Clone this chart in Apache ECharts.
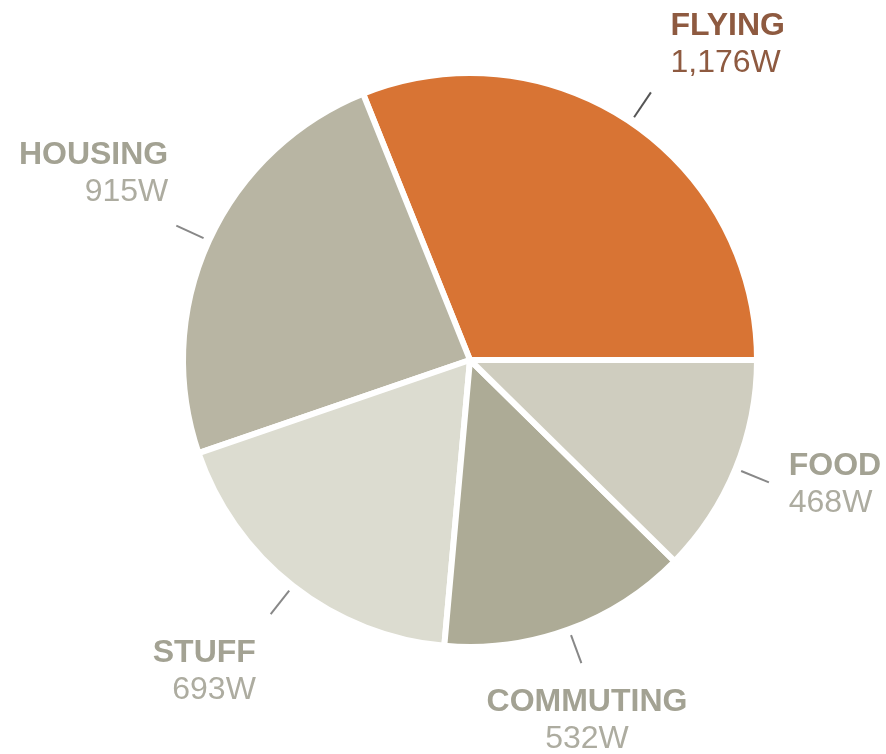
<!DOCTYPE html>
<html>
<head>
<meta charset="utf-8">
<script src="https://cdn.jsdelivr.net/npm/echarts@6/dist/echarts.min.js"></script>
<style>html,body{margin:0;padding:0;background:#fff;}#c{width:886px;height:754px;}</style>
</head>
<body>
<div id="c"></div>
<script>
var categories = ['FLYING', 'HOUSING', 'STUFF', 'COMMUTING', 'FOOD'];
var values = [1176, 915, 693, 532, 468];
var valueLabels = ['1,176W', '915W', '693W', '532W', '468W'];

var sliceColors = ['#D87434', '#B8B5A3', '#DCDCD0', '#ADAB96', '#CFCDBF'];
var nameColors = ['#8E5A40', '#A3A293', '#A3A293', '#A3A293', '#A3A293'];
var valueColors = ['#8E5A40', '#ADACA0', '#ADACA0', '#ADACA0', '#ADACA0'];
var lineColors = ['#555555', '#888888', '#888888', '#888888', '#888888'];
var aligns = ['left', 'right', 'right', 'center', 'left'];
// label box padding [top, right, bottom, left] used to nudge each label block
var labelPads = [[37, 0, 0, 64], [0, 20, 38, 0], [0, 34, 10, 0], [0, 44, 35, 0], [0, 16, 56, 0]];

var FONT = 'Liberation Sans, Arial, Helvetica, sans-serif';
var CENTER = [470, 360];

var mainData = categories.map(function (c, i) {
  return { name: c, value: values[i], itemStyle: { color: sliceColors[i] } };
});
var lineData = categories.map(function (c, i) {
  return { name: c, value: values[i], labelLine: { lineStyle: { color: lineColors[i] } } };
});
var labelData = categories.map(function (c, i) {
  return {
    name: c, value: values[i],
    label: {
      formatter: '{n|' + c + '}\n{v|' + valueLabels[i] + '}',
      padding: labelPads[i],
      rich: {
        n: { fontFamily: FONT, fontWeight: 'bold', fontSize: 32, color: nameColors[i], align: aligns[i], lineHeight: 37 },
        v: { fontFamily: FONT, fontSize: 32, color: valueColors[i], align: aligns[i], lineHeight: 37 }
      }
    }
  };
});

var chart = echarts.init(document.getElementById('c'));
chart.setOption({
  animation: false,
  series: [
    {
      type: 'pie', center: CENTER, radius: [0, 287],
      startAngle: 0, clockwise: false, silent: true,
      itemStyle: { borderColor: '#ffffff', borderWidth: 6 },
      label: { show: false }, labelLine: { show: false },
      data: mainData
    },
    {
      type: 'pie', center: CENTER, radius: [0, 293],
      startAngle: 0, clockwise: false, silent: true,
      avoidLabelOverlap: false,
      itemStyle: { color: 'rgba(0,0,0,0)' },
      label: { show: true, position: 'outside', formatter: ' ', fontSize: 2 },
      labelLine: { show: true, length: 30, length2: 0, lineStyle: { width: 2 } },
      data: lineData
    },
    {
      type: 'pie', center: CENTER, radius: [390, 410],
      startAngle: 0, clockwise: false, silent: true,
      avoidLabelOverlap: false,
      itemStyle: { color: 'rgba(0,0,0,0)' },
      label: { show: true, position: 'inside' },
      labelLine: { show: false },
      data: labelData
    }
  ]
});
</script>
</body>
</html>
